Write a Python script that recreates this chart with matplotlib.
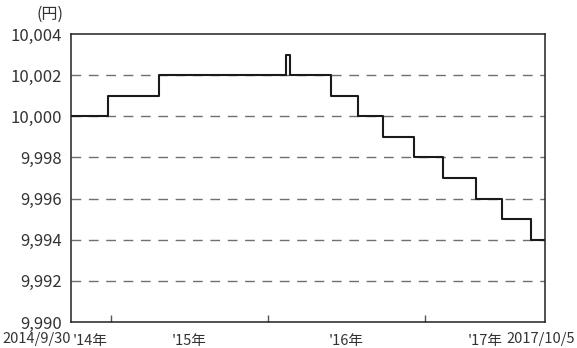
import pandas as pd
import matplotlib.pyplot as plt
from matplotlib.ticker import FuncFormatter

plt.rcParams['font.family'] = ['Noto Sans CJK JP', 'DejaVu Sans']

# step dates (value holds from this date on) and price levels in yen
change_dates = ["2014-09-30", "2014-12-27", "2015-04-23", "2016-02-13", "2016-02-22",
                "2016-05-27", "2016-07-29", "2016-09-25", "2016-12-06", "2017-02-11",
                "2017-04-29", "2017-06-28", "2017-09-04", "2017-10-05"]
levels = [10000, 10001, 10002, 10003, 10002, 10001, 10000, 9999, 9998, 9997,
          9996, 9995, 9994, 9994]

start_date = "2014-09-30"
end_date = "2017-10-05"
year_ticks = ["2015-01-01", "2016-01-01", "2017-01-01"]
year_label_pos = ["2014-11-15", "2015-07-02", "2016-07-02", "2017-05-19"]
year_labels = ["'14年", "'15年", "'16年", "'17年"]
y_ticks = [9990, 9992, 9994, 9996, 9998, 10000, 10002, 10004]

df = pd.DataFrame({"date": pd.to_datetime(change_dates), "price": levels})

fig = plt.figure(figsize=(5.77, 3.48), dpi=100)
ax = fig.add_axes([70.5 / 577, 26 / 348, 474 / 577, 288 / 348])

ax.step(df["date"], df["price"], where="post", color="#1a1a1a", lw=1.5, zorder=3)

ax.set_xlim(pd.Timestamp(start_date), pd.Timestamp(end_date))
ax.set_ylim(9990, 10004)
ax.set_yticks(y_ticks)
ax.yaxis.set_major_formatter(FuncFormatter(lambda v, p: f"{int(v):,}"))
ax.tick_params(axis="y", length=0, labelsize=12, labelcolor="#333333", pad=6)

# dashed grid lines between the frame edges
for v in y_ticks[1:-1]:
    ax.axhline(v, color="#707070", lw=1.0, ls=(0, (7, 5.5)), zorder=1)

ax.set_xticks(pd.to_datetime(year_ticks))
ax.tick_params(axis="x", direction="in", length=5, width=1, labelbottom=False, color="#555555")

trans = ax.get_xaxis_transform()
for d, lab in zip(year_label_pos, year_labels):
    ax.text(pd.Timestamp(d), -0.065, lab, transform=trans, ha="center", va="center",
            fontsize=10.5, color="#333333")
fig.text(2 / 577, 1 - 339 / 348, "2014/9/30", ha="left", va="center",
         fontsize=10.5, color="#333333")
fig.text(575 / 577, 1 - 339 / 348, "2017/10/5", ha="right", va="center",
         fontsize=10.5, color="#333333")
fig.text(50 / 577, 1 - 14 / 348, "(円)", ha="center", va="center", fontsize=11.5, color="#333333")

for s in ax.spines.values():
    s.set_color("#222222")
    s.set_linewidth(1.1)

fig.savefig("out.png", dpi=100)
